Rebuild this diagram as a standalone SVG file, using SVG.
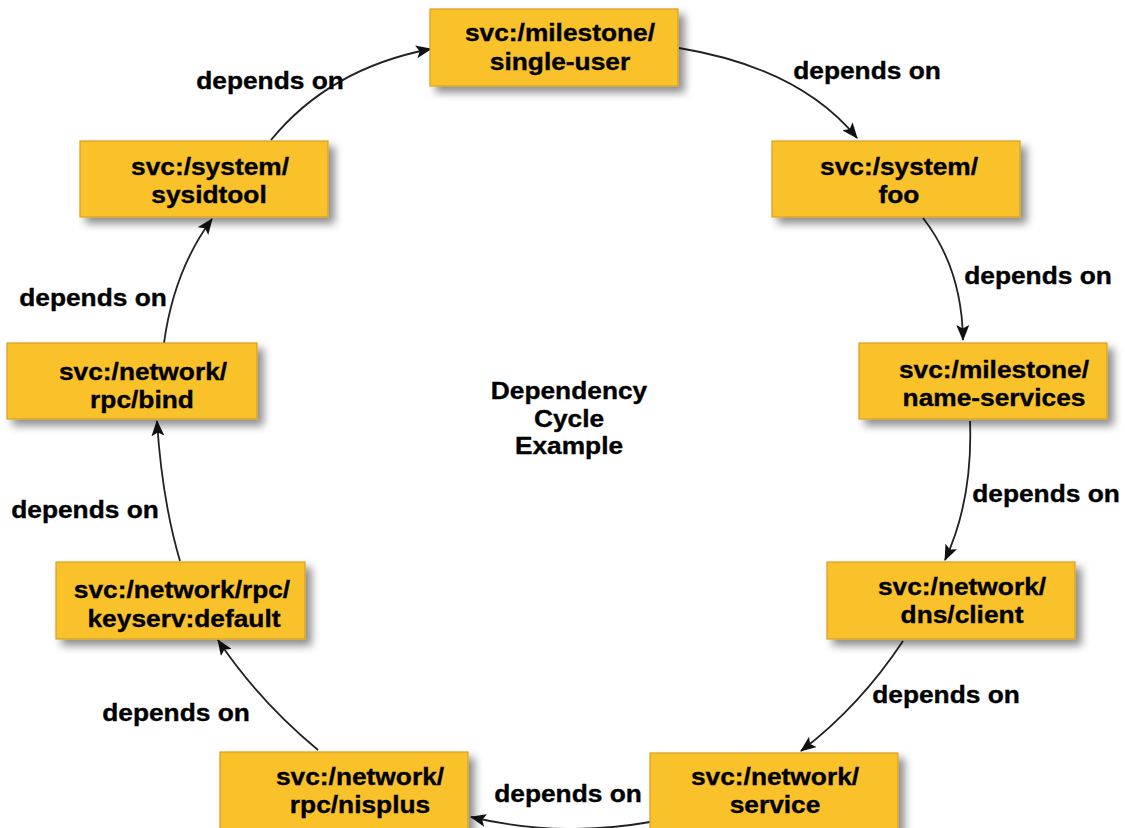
<svg xmlns="http://www.w3.org/2000/svg" width="1125" height="828" viewBox="0 0 1125 828">
<style>
.box{fill:#F9C22B;stroke:#D8A01E;stroke-width:1.2}
text{font-family:"Liberation Sans",Arial,sans-serif;font-weight:bold;font-size:23.5px;fill:#000;stroke:#000;stroke-width:0.35;text-anchor:middle}
.c{fill:none;stroke:#222;stroke-width:1.8;marker-end:url(#ah)}
</style>
<defs>
<filter id="sh" x="-10%" y="-20%" width="130%" height="150%">
<feDropShadow dx="6" dy="6" stdDeviation="4" flood-color="#000" flood-opacity="0.45"/>
</filter>
<marker id="ah" markerUnits="userSpaceOnUse" markerWidth="17" markerHeight="13" refX="15" refY="6.5" orient="auto">
<path d="M0,0 L16,6.5 L0,13 L3.5,6.5 Z" fill="#111"/>
</marker>
</defs>
<rect width="1125" height="828" fill="#fff"/>
<g id="connectors">
<path class="c" d="M679 48 Q800 68 857 138"/>
<path class="c" d="M923 218 Q962 268 963 340"/>
<path class="c" d="M970 421 Q973 500 945 560"/>
<path class="c" d="M903 641 Q860 706 801 751"/>
<path class="c" d="M650 822 Q560 838 471 817"/>
<path class="c" d="M318 750 Q258 700 218 640"/>
<path class="c" d="M180 561 Q162 500 157 421"/>
<path class="c" d="M164 343 Q174 270 212 219"/>
<path class="c" d="M271 140 Q330 68 431 49"/>
</g>
<g id="labels">
<text transform="translate(270,89) scale(1.12,1)">depends on</text>
<text transform="translate(867,79) scale(1.12,1)">depends on</text>
<text transform="translate(1038,284) scale(1.12,1)">depends on</text>
<text transform="translate(1046,502) scale(1.12,1)">depends on</text>
<text transform="translate(946,703) scale(1.12,1)">depends on</text>
<text transform="translate(568,802) scale(1.12,1)">depends on</text>
<text transform="translate(176,721) scale(1.12,1)">depends on</text>
<text transform="translate(85,518) scale(1.12,1)">depends on</text>
<text transform="translate(93,306) scale(1.12,1)">depends on</text>
</g>
<g id="title">
<text transform="translate(569,399) scale(1.12,1)">Dependency</text>
<text transform="translate(569,427) scale(1.12,1)">Cycle</text>
<text transform="translate(569,454) scale(1.12,1)">Example</text>
</g>
<g id="n-single-user">
<rect class="box" filter="url(#sh)" x="430" y="9" width="248" height="77"/>
<text transform="translate(560,41) scale(1.12,1)">svc:/milestone/</text>
<text transform="translate(560,70) scale(1.12,1)">single-user</text>
</g>
<g id="n-foo">
<rect class="box" filter="url(#sh)" x="772" y="141" width="248" height="76"/>
<text transform="translate(899,175) scale(1.12,1)">svc:/system/</text>
<text transform="translate(899,203) scale(1.12,1)">foo</text>
</g>
<g id="n-name-services">
<rect class="box" filter="url(#sh)" x="859" y="343" width="248" height="76"/>
<text transform="translate(994,378) scale(1.12,1)">svc:/milestone/</text>
<text transform="translate(994,406) scale(1.12,1)">name-services</text>
</g>
<g id="n-dns-client">
<rect class="box" filter="url(#sh)" x="827" y="562" width="248" height="77"/>
<text transform="translate(962,595) scale(1.12,1)">svc:/network/</text>
<text transform="translate(962,623) scale(1.12,1)">dns/client</text>
</g>
<g id="n-service">
<rect class="box" filter="url(#sh)" x="650" y="753" width="248" height="90"/>
<text transform="translate(775,785) scale(1.12,1)">svc:/network/</text>
<text transform="translate(775,813) scale(1.12,1)">service</text>
</g>
<g id="n-nisplus">
<rect class="box" filter="url(#sh)" x="220" y="752" width="248" height="90"/>
<text transform="translate(360,785) scale(1.12,1)">svc:/network/</text>
<text transform="translate(360,813) scale(1.12,1)">rpc/nisplus</text>
</g>
<g id="n-keyserv">
<rect class="box" filter="url(#sh)" x="56" y="562" width="249" height="77"/>
<text transform="translate(182,598) scale(1.12,1)">svc:/network/rpc/</text>
<text transform="translate(184,627) scale(1.12,1)">keyserv:default</text>
</g>
<g id="n-rpc-bind">
<rect class="box" filter="url(#sh)" x="7" y="343" width="250" height="76"/>
<text transform="translate(143,380) scale(1.12,1)">svc:/network/</text>
<text transform="translate(142,408) scale(1.12,1)">rpc/bind</text>
</g>
<g id="n-sysidtool">
<rect class="box" filter="url(#sh)" x="80" y="141" width="248" height="76"/>
<text transform="translate(210,175) scale(1.12,1)">svc:/system/</text>
<text transform="translate(209,203) scale(1.12,1)">sysidtool</text>
</g>
</svg>
